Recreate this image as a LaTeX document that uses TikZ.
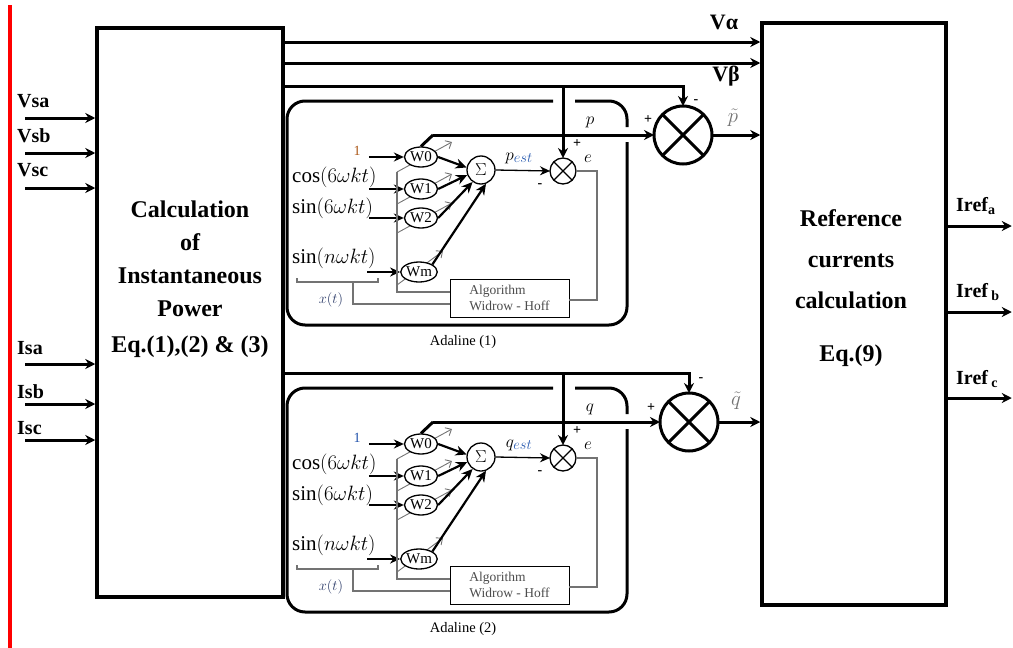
\documentclass[tikz,border=0pt]{standalone}
\usepackage{fontspec}
\setmainfont{Liberation Serif}[BoldFont={Liberation Serif Bold},ItalicFont={Liberation Serif Italic}]
\usetikzlibrary{arrows.meta,shapes.geometric,backgrounds}

\definecolor{biasA}{RGB}{170,85,20}
\definecolor{biasB}{RGB}{30,80,170}
\definecolor{estblue}{RGB}{40,90,175}
\definecolor{xtblue}{RGB}{45,60,105}

\tikzset{
  sigline/.style={line width=3pt},
  bigbox/.style={draw,line width=3.5pt,inner sep=0pt},
  boxtxt/.style={align=center,inner sep=0pt,font=\bfseries\fontsize{24}{33}\selectfont},
  srclbl/.style={anchor=west,inner sep=0pt,font=\bfseries\fontsize{20}{20}\selectfont},
  biglbl/.style={inner sep=0pt,font=\bfseries\fontsize{22}{22}\selectfont},
  tildelbl/.style={inner sep=0pt,text=black!55,font=\fontsize{22}{22}\selectfont},
  pmlbl/.style={inner sep=0pt,font=\bfseries\fontsize{14}{14}\selectfont},
  frame/.style={line width=3pt,rounded corners=18pt},
  wnode/.style={ellipse,draw,fill=white,line width=1.3pt,inner sep=0pt,
    minimum width=33pt,minimum height=20pt,font=\fontsize{15}{15}\selectfont},
  sumnode/.style={circle,draw,line width=1.3pt,inner sep=0pt,minimum size=28pt,
    font=\fontsize{17}{17}\selectfont},
  errnode/.style={circle,draw,line width=1.3pt,inner sep=0pt,outer sep=0pt,minimum size=26pt},
  mulnode/.style={circle,draw,line width=3pt,inner sep=0pt,outer sep=0pt,minimum size=58pt},
  algobox/.style={draw,line width=0.9pt,minimum width=119pt,minimum height=38pt,align=left,
    text=black!70,font=\fontsize{13.5}{15.5}\selectfont},
  inlbl/.style={anchor=west,inner sep=0pt,font=\fontsize{21}{21}\selectfont},
  onelbl/.style={inner sep=0pt,font=\fontsize{14}{14}\selectfont},
  siglbl/.style={inner sep=0pt,font=\fontsize{19}{19}\selectfont},
  xlbl/.style={inner sep=0pt,text=xtblue,font=\fontsize{15}{15}\selectfont},
  adalbl/.style={inner sep=0pt,font=\fontsize{14.5}{14.5}\selectfont},
  inarr/.style={line width=2.5pt,-{Stealth[length=10pt,width=9pt]}},
  warr/.style={line width=2.2pt,-{Stealth[length=11pt,width=10pt]}},
  estarr/.style={line width=1.3pt,-{Stealth[length=10pt,width=9pt]}},
  adjarr/.style={draw=black!55,line width=0.9pt,-{Straight Barb[length=5pt,width=9pt]}},
  greyline/.style={draw=black!55,line width=1.1pt}
}

\newcommand{\adaline}[4]{%
  \begin{scope}[shift={(0,#1)},name prefix=#2]
    \draw[frame] (553,101) -| (287,325) -| (627,142);
    \draw[frame] (575,101) -| (627,127);
    \node[wnode] (W0) at (421,157) {W0};
    \node[wnode] (W1) at (421,189) {W1};
    \node[wnode] (W2) at (421,218) {W2};
    \node[wnode] (Wm) at (419,272) {Wm};
    \node[sumnode] (S) at (481,170) {$\Sigma$};
    \node[errnode] (X) at (563,171) {};
    \node[algobox] (algo) at (509.5,298) {Algorithm\\Widrow - Hoff};
    \node[onelbl,text=#3] (one) at (357,151) {1};
    \node[inlbl] (c6) at (292,177) {$\cos(6\omega kt)$};
    \node[inlbl] (s6) at (292,208) {$\sin(6\omega kt)$};
    \node[inlbl] (sn) at (292,258) {$\sin(n\omega kt)$};
    \node[xlbl] (xt) at (331,300) {$x(t)$};
    \node[adalbl] (name) at (463,342) {Adaline (#4)};
    \node[siglbl] (sig) at (590,122) {$#2$};
    \node[siglbl] (est) at (519,158) {$#2_{\textcolor{estblue}{est}}$};
    \node[pmlbl] (plus) at (577,144) {+};
    \node[pmlbl] (minus) at (540,186) {-};
    \node[siglbl] (e) at (588,159) {$e$};
    \coordinate (out) at (433,135);
    \draw[inarr] ([xshift=-35pt]W0.west) -- (W0.west);
    \draw[inarr] ([xshift=-35pt]W1.west) -- (W1.west);
    \draw[inarr] ([xshift=-35pt]W2.west) -- (W2.west);
    \draw[inarr] ([xshift=-33pt]Wm.west) -- (Wm.west);
    \draw[warr] (W0.east) -- (S.170);
    \draw[warr] (W1.east) -- (S.200);
    \draw[warr] (W2.east) -- (S.235);
    \draw[warr] (Wm.north east) -- (S.290);
    \draw[estarr] (S.east) -- (X.west);
    \draw[line width=1.2pt] (X.north east) -- (X.south west) (X.north west) -- (X.south east);
    \draw[sigline] (W0.north) -- (out);
    \begin{scope}[on background layer]
      \draw[adjarr] ([shift={(-24,15)}]W0.center) -- ([shift={(31,-15)}]W0.center);
      \draw[adjarr] ([shift={(-24,15)}]W1.center) -- ([shift={(31,-15)}]W1.center);
      \draw[adjarr] ([shift={(-24,15)}]W2.center) -- ([shift={(31,-15)}]W2.center);
      \draw[adjarr] ([shift={(-22,13)}]Wm.center) -- ([shift={(24,-21)}]Wm.center);
    \end{scope}
    \draw[greyline] ([shift={(-24,15)}]W0.center) |- (algo.west |- 0,292);
    \draw[greyline] (297,278) -- (297,282) -- (378,282) -- (378,278);
    \draw[greyline] (353,282) |- (algo.west |- 0,304);
    \draw[greyline] (X.east) -| (597,300) -- (algo.east |- 0,300);
  \end{scope}}

\begin{document}
\begin{tikzpicture}[x=1pt,y=-1pt,>={Stealth[length=10pt,width=10pt]}]
  \useasboundingbox (0,0) rectangle (1013,648);
  \draw[red,line width=3.4pt] (10,5) -- (10,648);
  \node[bigbox,minimum width=186pt,minimum height=569pt] (calc) at (190,312.5) {};
  \node[bigbox,minimum width=184pt,minimum height=582pt] (refc) at (854,314) {};
  \node[boxtxt] (calc-txt) at (190,279) {Calculation\\of\\Instantaneous\\Power\\[3pt]Eq.(1),(2) \& (3)};
  \node[boxtxt,font=\bfseries\fontsize{24}{41}\selectfont] (refc-txt) at (851,288)
    {Reference\\currents\\calculation\\[12pt]Eq.(9)};
  \foreach \nm/\lbl/\ly/\ay in {vsa/Vsa/101/118,vsb/Vsb/136/153,vsc/Vsc/170/188,
      isa/Isa/348/364,isb/Isb/392/404,isc/Isc/428/440} {
    \node[srclbl] (\nm-lbl) at (17,\ly) {\lbl};
    \coordinate (\nm) at (25,\ay);
    \draw[sigline,->] (\nm) -- (\nm -| calc.west);
  }
  \adaline{0}{p}{biasA}{1}
  \adaline{287}{q}{biasB}{2}
  \node[mulnode] (pmul) at (683,135) {};
  \node[mulnode] (qmul) at (689,422) {};
  \draw[sigline] (pmul.north east) -- (pmul.south west) (pmul.north west) -- (pmul.south east);
  \draw[sigline] (qmul.north east) -- (qmul.south west) (qmul.north west) -- (qmul.south east);
  \coordinate (va) at (calc.east |- 0,42);
  \coordinate (vb) at (calc.east |- 0,63);
  \coordinate (pp) at (calc.east |- 0,86);
  \coordinate (qq) at (calc.east |- 0,373);
  \draw[sigline,->] (va) -- (va -| refc.west);
  \draw[sigline,->] (vb) -- (vb -| refc.west);
  \node[biglbl] (va-lbl) at (724,22) {Vα};
  \node[biglbl] (vb-lbl) at (726,76) {Vβ};
  \draw[sigline,->] (pp) -| (pmul.north);
  \draw[sigline,->] (pp -| pX.north) -- (pX.north);
  \draw[sigline,->] (pout) -- (pout -| pmul.west);
  \draw[sigline,->] (pmul.east) -- (pmul.east -| refc.west);
  \node[pmlbl] (pmul-minus) at (696,102) {-};
  \node[pmlbl] (pmul-plus) at (648,120) {+};
  \node[tildelbl] (ptilde) at (733,118) {$\tilde{p}$};
  \draw[sigline,->] (qq) -| (qmul.north);
  \draw[sigline,->] (qq -| qX.north) -- (qX.north);
  \draw[sigline,->] (qout) -- (qout -| qmul.west);
  \draw[sigline,->] (qmul.east) -- (qmul.east -| refc.west);
  \node[pmlbl] (qmul-minus) at (701,380) {-};
  \node[pmlbl] (qmul-plus) at (651,408) {+};
  \node[tildelbl] (qtilde) at (736,401) {$\tilde{q}$};
  \coordinate (ira) at (refc.east |- 0,226);
  \coordinate (irb) at (refc.east |- 0,312);
  \coordinate (irc) at (refc.east |- 0,398);
  \draw[sigline,->] (ira) -- ++(64,0);
  \draw[sigline,->] (irb) -- ++(64,0);
  \draw[sigline,->] (irc) -- ++(64,0);
  \node[srclbl] (ira-lbl) at (956,206) {Iref\textsubscript{a}};
  \node[srclbl] (irb-lbl) at (956,292) {Iref\,\textsubscript{b}};
  \node[srclbl] (irc-lbl) at (956,379) {Iref\,\textsubscript{c}};
\end{tikzpicture}
\end{document}
